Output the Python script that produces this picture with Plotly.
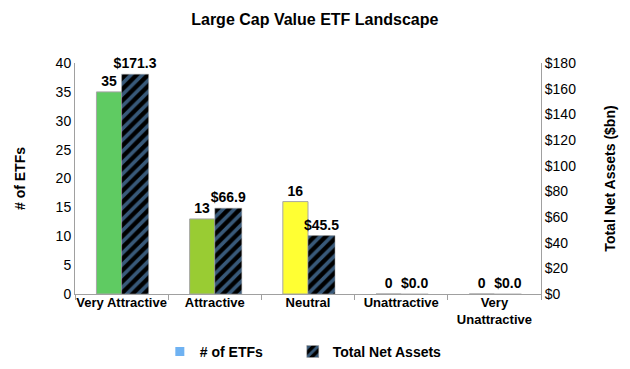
import plotly.graph_objects as go

categories = ["Very Attractive", "Attractive", "Neutral", "Unattractive", "Very<br>Unattractive"]
num_etfs = [35, 13, 16, 0, 0]
net_assets = [171.3, 66.9, 45.5, 0.0, 0.0]
etf_labels = ["35", "13", "16", "0", "0"]
asset_labels = ["$171.3", "$66.9", "$45.5", "$0.0", "$0.0"]
bar_colors = ["#5FCB62", "#99CC33", "#FFFF33", "#BFBFBF", "#BFBFBF"]

FONT = "Liberation Sans, Arial, sans-serif"

fig = go.Figure()
fig.add_trace(go.Bar(
    x=categories, y=num_etfs, name="# of ETFs", showlegend=False,
    marker=dict(color=bar_colors, line=dict(color="#A6A6A6", width=1)),
    offset=-0.27, width=0.27,
    text=etf_labels, textposition="outside", cliponaxis=False, constraintext="none",
    textfont=dict(family=FONT, size=14, color="black", weight="bold"),
    yaxis="y",
))
fig.add_trace(go.Bar(
    x=categories, y=net_assets, name="Total Net Assets", legend="legend2",
    marker=dict(color="black", line=dict(color="#A6A6A6", width=0.5),
                pattern=dict(shape="/", bgcolor="black", fgcolor="#6FB2F2",
                             fillmode="overlay", size=8, solidity=0.45)),
    offset=0.0, width=0.29,
    text=asset_labels, textposition="outside", cliponaxis=False, constraintext="none",
    textfont=dict(family=FONT, size=14, color="black", weight="bold"),
    yaxis="y2",
))
fig.add_trace(go.Scatter(
    x=[None], y=[None], mode="markers", name="# of ETFs", legend="legend",
    marker=dict(symbol="square", color="#6FB2F2", size=9),
))

legend_common = dict(orientation="h", xref="container", yref="container",
                     xanchor="left", y=0.068, yanchor="middle",
                     font=dict(size=14, family=FONT, weight="bold"), itemwidth=30,
                     bgcolor="rgba(0,0,0,0)")

fig.update_layout(
    width=630, height=369,
    margin=dict(l=67, r=97, t=55, b=83),
    paper_bgcolor="white", plot_bgcolor="white",
    barmode="overlay",
    font=dict(family=FONT, size=14, color="black"),
    title=dict(text="<b>Large Cap Value ETF Landscape</b>", x=0.487, xanchor="center",
               y=0.97, yanchor="middle", font=dict(size=16, family=FONT)),
    xaxis=dict(
        type="category", categoryorder="array", categoryarray=categories,
        showline=True, linecolor="#A0A0A0", linewidth=1, tickangle=0,
        ticks="outside", tickson="boundaries", tickcolor="#A0A0A0", ticklen=5,
        ticklabelstandoff=-4,
        tickfont=dict(size=13, family=FONT, weight="bold"),
        showgrid=False, automargin=False,
    ),
    yaxis=dict(
        range=[0, 40], dtick=5, showline=True, linecolor="#A0A0A0",
        showgrid=False, zeroline=False, ticks="", automargin=False,
        title=dict(text="<b># of ETFs</b>", font=dict(size=14), standoff=26),
        tickfont=dict(size=14),
    ),
    yaxis2=dict(
        range=[0, 180], dtick=20, overlaying="y", side="right",
        showline=True, linecolor="#A0A0A0", showgrid=False, zeroline=False,
        tickprefix="$", ticks="", automargin=False,
        title=dict(text="<b>Total Net Assets ($bn)</b>", font=dict(size=14), standoff=30),
        tickfont=dict(size=14),
    ),
    legend=dict(x=0.241, **legend_common),
    legend2=dict(x=0.452, **legend_common),
)

fig.write_html("out.html")
